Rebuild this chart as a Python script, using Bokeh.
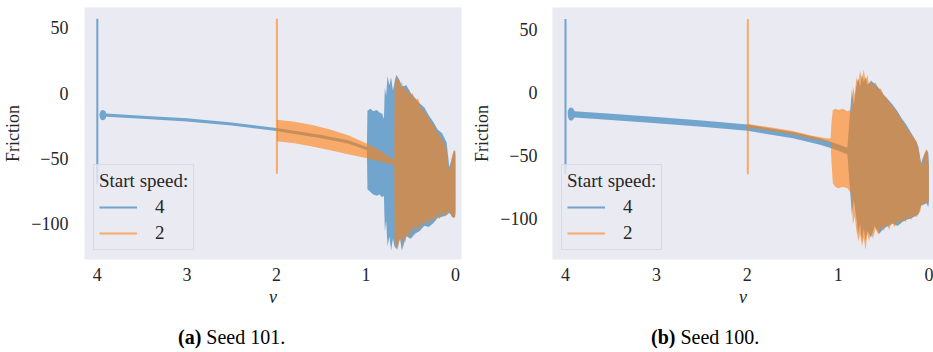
from bokeh.plotting import figure
from bokeh.models import Range1d, Legend, LegendItem, FixedTicker, Div
from bokeh.layouts import column, row
from bokeh.embed import file_html
from bokeh.resources import INLINE

# ---------------- data ----------------
x_ticks = [0, 1, 2, 3, 4]
y_ticks = [-100, -50, 0, 50]
y_tick_labels = {-100: "\u2212100", -50: "\u221250", 0: "0", 50: "50"}
series_labels = ["4", "2"]
captions = [("(a)", "Seed 101."), ("(b)", "Seed 100.")]

# Seed 101 -- start speed 4
a4_spike_v = [4.0]
a4_spike_top = [57.0]
a4_spike_bot = [-70.0]
a4_v = [3.975, 3.96, 3.93, 3.91, 3.9, 3.5, 3.0, 2.5, 2.0, 1.5, 1.2, 0.99, 0.984,
        0.95, 0.92, 0.88, 0.85, 0.82, 0.80, 0.79, 0.775, 0.76, 0.74, 0.72, 0.70, 0.68,
        0.66, 0.62, 0.60, 0.55, 0.50, 0.45, 0.40, 0.35, 0.30, 0.25, 0.20, 0.15, 0.10,
        0.07, 0.04, 0.02, 0.005, 0.0]
a4_hi = [-16.0, -13.5, -13.0, -14.0, -15.8, -17.4, -19.4, -22.6, -26.8, -32.3, -36.3, -41.5, -13.6,
         -12.0, -14.0, -13.0, -15.0, -16.0, -20.0, 4.0, -2.0, 13.0, 6.0, 12.0, 2.0, 8.0,
         14.0, 9.0, 5.0, 6.0, 0.0, -4.0, -8.0, -11.0, -17.0, -22.0, -28.0, -31.0, -38.0,
         -57.0, -50.0, -45.0, -44.0, -48.0]
a4_lo = [-18.0, -20.5, -21.0, -20.0, -18.2, -19.8, -21.8, -25.0, -29.2, -34.7, -38.7, -43.9, -74.0,
         -76.0, -78.0, -79.0, -78.0, -80.0, -79.0, -106.0, -98.0, -118.0, -110.0, -121.0, -112.0, -118.0,
         -120.0, -112.0, -121.0, -110.0, -112.0, -108.0, -106.0, -102.0, -103.0, -100.0, -96.0, -95.0, -94.0,
         -92.0, -95.0, -96.0, -95.0, -92.0]

# Seed 101 -- start speed 2
a2_spike_v = [1.995]
a2_spike_top = [57.0]
a2_spike_bot = [-62.0]
a2_v = [1.995, 1.8, 1.6, 1.4, 1.2, 1.0, 0.85, 0.70, 0.685, 0.68,
        0.665, 0.65, 0.635, 0.62, 0.60, 0.58, 0.56, 0.54, 0.52, 0.50, 0.48, 0.45, 0.42,
        0.39, 0.36, 0.33, 0.30, 0.27, 0.24, 0.21, 0.18, 0.15, 0.12, 0.10, 0.085, 0.07,
        0.05, 0.035, 0.02, 0.008, 0.004]
a2_hi = [-20.5, -22.0, -24.5, -28.0, -32.5, -38.5, -44.0, -51.0, -52.5, 10.0,
         13.0, 6.0, 12.0, 4.0, 9.0, 2.0, 5.0, -1.0, 3.0, -3.0, 0.0, -6.0, -4.0,
         -11.0, -13.0, -16.0, -19.0, -23.0, -25.0, -30.0, -32.0, -36.0, -39.0, -44.0, -56.0, -60.0,
         -52.0, -47.0, -44.0, -45.0, -60.0]
a2_lo = [-37.0, -38.5, -41.0, -44.0, -47.0, -50.0, -52.5, -55.0, -56.0, -119.0,
         -112.0, -121.0, -117.0, -110.0, -119.0, -108.0, -115.0, -106.0, -112.0, -103.0, -108.0, -101.0, -107.0,
         -99.0, -103.0, -97.0, -101.0, -95.0, -99.0, -93.0, -97.0, -91.0, -95.0, -93.0, -90.0, -92.0,
         -93.0, -96.0, -94.0, -96.0, -88.0]

# Seed 100 -- start speed 4
b4_spike_v = [4.0]
b4_spike_top = [58.0]
b4_spike_bot = [-65.0]
b4_v = [3.975, 3.96, 3.93, 3.91, 3.9, 3.5, 3.0, 2.5, 2.0, 1.5, 1.2, 1.05, 0.9, 0.87,
        0.85, 0.83, 0.80, 0.78, 0.76, 0.74, 0.72, 0.70, 0.68, 0.64, 0.60, 0.55, 0.50,
        0.45, 0.40, 0.35, 0.30, 0.25, 0.20, 0.15, 0.12, 0.09, 0.06, 0.03, 0.01, 0.003]
b4_hi = [-15.0, -12.5, -12.0, -13.5, -15.0, -17.0, -19.5, -22.3, -25.5, -31.5, -36.5, -40.0, -44.0, -15.0,
         2.0, -10.0, 5.0, 11.0, 4.0, 14.0, 8.0, 12.0, 6.0, 9.0, 7.0, 3.0, -2.0,
         -6.0, -10.0, -15.0, -21.0, -26.0, -32.0, -38.0, -43.0, -56.0, -50.0, -46.0, -48.0, -58.0]
b4_lo = [-19.0, -22.0, -22.5, -21.0, -20.0, -22.0, -24.5, -27.3, -30.5, -36.5, -41.5, -45.0, -49.0, -78.0,
         -98.0, -85.0, -100.0, -112.0, -104.0, -118.0, -108.0, -117.0, -110.0, -115.0, -106.0, -112.0, -108.0,
         -106.0, -104.0, -106.0, -103.0, -101.0, -100.0, -98.0, -97.0, -90.0, -89.0, -88.0, -91.0, -86.0]

# Seed 100 -- start speed 2
b2_spike_v = [1.995]
b2_spike_top = [58.0]
b2_spike_bot = [-65.0]
b2_v = [1.995, 1.7, 1.5, 1.3, 1.15, 1.085, 1.075, 1.06, 1.03, 1.0, 0.95, 0.9, 0.87,
        0.85, 0.84, 0.82, 0.80, 0.78, 0.76, 0.74, 0.72, 0.70, 0.68, 0.66, 0.64, 0.62,
        0.59, 0.56, 0.53, 0.50, 0.47, 0.44, 0.41, 0.38, 0.35, 0.32, 0.29, 0.26, 0.23,
        0.20, 0.17, 0.14, 0.12, 0.10, 0.085, 0.07, 0.05, 0.03, 0.015, 0.005]
b2_hi = [-25.2, -28.2, -30.7, -34.2, -36.2, -36.7, -24.0, -14.0, -13.0, -14.0, -13.0, -15.0, -14.0,
         -18.0, 5.0, -2.0, 12.0, 8.0, 17.0, 10.0, 18.0, 9.0, 14.0, 5.0, 10.0, 4.0,
         8.0, 2.0, 3.0, -3.0, -4.0, -8.0, -10.0, -13.0, -16.0, -20.0, -23.0, -27.0, -30.0,
         -33.0, -36.0, -39.0, -44.0, -52.0, -59.0, -55.0, -48.0, -45.0, -47.0, -60.0]
b2_lo = [-27.8, -30.8, -33.3, -36.8, -38.8, -39.3, -55.0, -72.0, -75.0, -76.0, -75.0, -76.0, -79.0,
         -80.0, -105.0, -98.0, -110.0, -118.0, -112.0, -122.0, -115.0, -125.0, -112.0, -118.0, -110.0, -116.0,
         -108.0, -113.0, -106.0, -110.0, -104.0, -109.0, -103.0, -107.0, -101.0, -105.0, -100.0, -103.0, -98.0,
         -101.0, -97.0, -99.0, -96.0, -95.0, -88.0, -88.0, -89.0, -87.0, -90.0, -85.0]

# ---------------- style ----------------
BLUE = "#1f77b4"
ORANGE = "#ff7f0e"
ALPHA = 0.6
BG = "#EAEAF2"
TXT = "#262626"
FONT = "Liberation Serif"


def make_panel(width, border_left, border_right, x_end, y_lo, y_hi,
               s4, s2, tick_standoff):
    p = figure(width=width, height=310, output_backend="svg", toolbar_location=None,
               x_range=Range1d(4.143, x_end), y_range=Range1d(y_lo, y_hi),
               min_border_left=border_left, min_border_right=border_right,
               min_border_top=7, min_border_bottom=51)
    p.background_fill_color = BG
    p.border_fill_color = "white"
    p.outline_line_color = None
    p.grid.visible = False

    renderers = []
    for (sv, st, sb, v, hi, lo), col in ((s4, BLUE), (s2, ORANGE)):
        p.varea(x=v, y1=lo, y2=hi, fill_color=col, fill_alpha=ALPHA)
        r = p.segment(x0=sv, y0=sb, x1=sv, y1=st, line_color=col,
                      line_alpha=ALPHA, line_width=2)
        renderers.append(r)

    for ax in (p.xaxis, p.yaxis):
        ax.axis_line_color = None
        ax.major_tick_line_color = None
        ax.minor_tick_line_color = None
        ax.major_label_text_font = FONT
        ax.major_label_text_font_size = "18px"
        ax.major_label_text_color = TXT
        ax.axis_label_text_font = FONT
        ax.axis_label_text_font_size = "18px"
        ax.axis_label_text_color = TXT

    p.xaxis.ticker = FixedTicker(ticks=x_ticks)
    p.xaxis.major_label_standoff = 2
    p.xaxis.axis_label = "v"
    p.xaxis.axis_label_text_font_style = "italic"
    p.xaxis.axis_label_standoff = 3

    p.yaxis.ticker = FixedTicker(ticks=y_ticks)
    p.yaxis.major_label_overrides = y_tick_labels
    p.yaxis.major_label_standoff = tick_standoff
    p.yaxis.axis_label = "Friction"
    p.yaxis.axis_label_text_font_style = "normal"
    p.yaxis.axis_label_standoff = 5

    legend = Legend(
        items=[LegendItem(label=series_labels[0], renderers=[renderers[0]]),
               LegendItem(label=series_labels[1], renderers=[renderers[1]])],
        title="Start speed:", location=(9, 9), margin=0, padding=5,
        spacing=4, glyph_height=20, glyph_width=38, label_standoff=18,
        title_standoff=4,
        background_fill_color=BG, background_fill_alpha=0.8,
        border_line_color="#CCCCCC", border_line_width=1,
        label_text_font=FONT, label_text_font_size="19px", label_text_color=TXT,
        title_text_font=FONT, title_text_font_size="19px", title_text_color=TXT,
        title_text_font_style="normal",
    )
    p.add_layout(legend)
    return p


pa = make_panel(466, 79, 5, -0.066, -127.9, 65.7,
                (a4_spike_v, a4_spike_top, a4_spike_bot, a4_v, a4_hi, a4_lo),
                (a2_spike_v, a2_spike_top, a2_spike_bot, a2_v, a2_hi, a2_lo), 10)
pb = make_panel(467, 86, 0, -0.047, -132.5, 67.2,
                (b4_spike_v, b4_spike_top, b4_spike_bot, b4_v, b4_hi, b4_lo),
                (b2_spike_v, b2_spike_top, b2_spike_bot, b2_v, b2_hi, b2_lo), 9)


def caption(width, pad_left, tag, text):
    html = (f'<div style="font-family:\'{FONT}\';font-size:20px;line-height:22px;color:#000;'
            f'padding-left:{pad_left}px;padding-top:16px;white-space:nowrap;">'
            f'<b>{tag}</b> {text}</div>')
    return Div(text=html, width=width, height=40, margin=0)


ca = caption(466, 178, *captions[0])
cb = caption(467, 185, *captions[1])

layout = column(row(pa, pb), row(ca, cb))
open("out.html", "w").write(file_html(layout, INLINE))
